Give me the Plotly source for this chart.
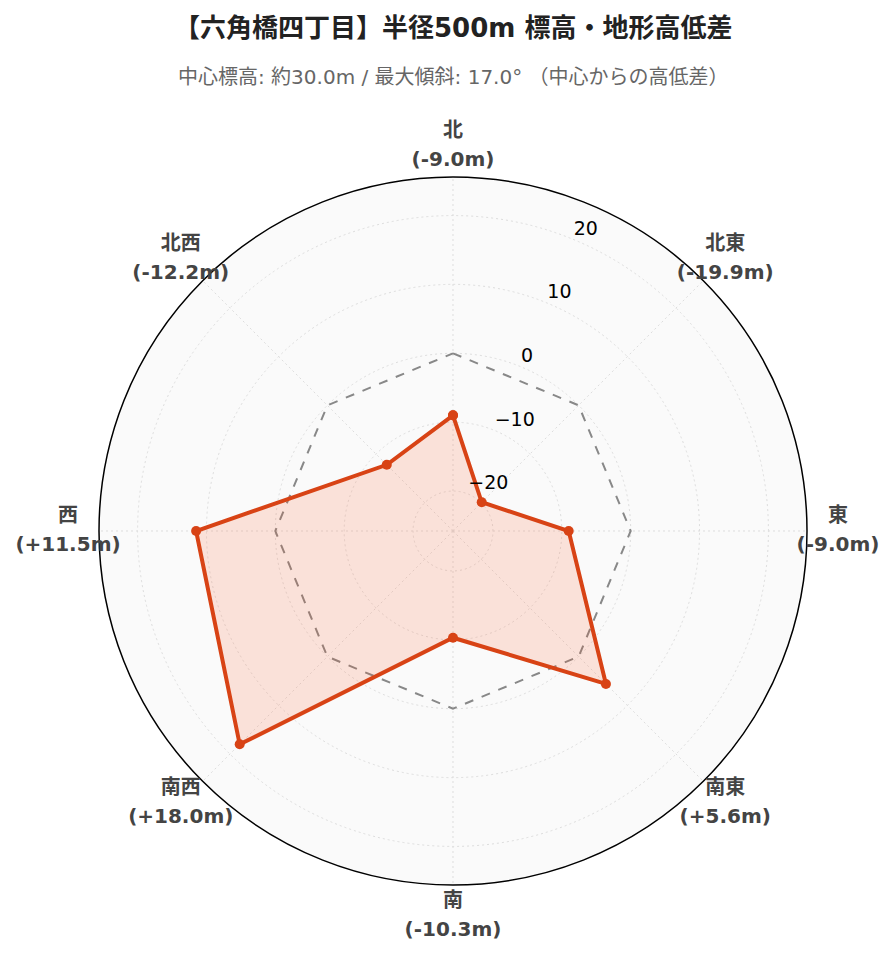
import plotly.graph_objects as go

directions = ["北", "北東", "東", "南東", "南", "南西", "西", "北西"]
direction_angles = [0, 45, 90, 135, 180, 225, 270, 315]
diffs = [-9.0, -19.9, -9.0, 5.6, -10.3, 18.0, 11.5, -12.2]
reference = [0, 0, 0, 0, 0, 0, 0, 0]
radial_ticks = [-20, -10, 0, 10, 20]
radial_range = [-25.8, 25.6]

title_text = "【六角橋四丁目】半径500m 標高・地形高低差"
subtitle_text = "中心標高: 約30.0m / 最大傾斜: 17.0° （中心からの高低差）"


def fmt_label(d, v):
    val = f"({v:+.1f}m)" if v > 0 else f"({v:.1f}m)"
    return (f"<span style='font-size:20px'><b>{d}</b></span><br>"
            f"<span style='font-size:20px'><b>{val}</b></span>")


labels = [fmt_label(d, v) for d, v in zip(directions, diffs)]

W, H = 896, 962
cx, cy, R = 445, 523, 354   # polar area (figure pixels)
R2 = 420                    # outer overlay polar used for the direction labels
span = radial_range[1] - radial_range[0]
range2 = [radial_range[0], radial_range[0] + span * R2 / R]
label_r = radial_range[0] + span * 385 / R
tick_theta = 22.5

fig = go.Figure()
fig.add_trace(go.Scatterpolar(
    r=reference + [reference[0]], theta=direction_angles + [direction_angles[0]], mode="lines",
    line=dict(color="#888888", width=2, dash="dash"), hoverinfo="skip", showlegend=False))
fig.add_trace(go.Scatterpolar(
    r=diffs + [diffs[0]], theta=direction_angles + [direction_angles[0]], mode="lines+markers",
    fill="toself", fillcolor="rgba(255,87,34,0.15)",
    line=dict(color="#D84315", width=4), marker=dict(size=10, color="#D84315"),
    showlegend=False))
# radial tick labels
fig.add_trace(go.Scatterpolar(
    r=radial_ticks, theta=[tick_theta] * len(radial_ticks), mode="text",
    text=[str(t).replace("-", "\u2212") for t in radial_ticks],
    textposition="top right", textfont=dict(size=19, color="black"),
    cliponaxis=False, hoverinfo="skip", showlegend=False))
# direction labels on an invisible, larger overlay polar with the same scale
fig.add_trace(go.Scatterpolar(
    r=[label_r] * len(directions), theta=direction_angles, mode="text", text=labels,
    textposition="middle center", textfont=dict(size=22, color="#444444"),
    cliponaxis=False, hoverinfo="skip", showlegend=False, subplot="polar2"))

hidden_axis = dict(visible=False, showgrid=False, showline=False, showticklabels=False, ticks="")
fig.update_layout(
    width=W, height=H,
    margin=dict(t=0, b=0, l=0, r=0, autoexpand=False),
    paper_bgcolor="white",
    font=dict(family="DejaVu Sans, Noto Sans CJK JP, sans-serif"),
    polar=dict(
        domain=dict(x=[(cx - R) / W, (cx + R) / W], y=[1 - (cy + R) / H, 1 - (cy - R) / H]),
        bgcolor="#fafafa",
        angularaxis=dict(rotation=90, direction="clockwise", showline=True, linecolor="black", linewidth=1.5,
                         tickvals=direction_angles, showticklabels=False,
                         gridcolor="#dddddd", griddash="2px,3px", ticks=""),
        radialaxis=dict(range=radial_range, tickvals=radial_ticks, showticklabels=False,
                        showline=False, ticks="",
                        gridcolor="#dddddd", griddash="2px,3px"),
    ),
    polar2=dict(
        domain=dict(x=[(cx - R2) / W, (cx + R2) / W], y=[1 - (cy + R2) / H, 1 - (cy - R2) / H]),
        bgcolor="rgba(0,0,0,0)",
        angularaxis=dict(rotation=90, direction="clockwise", **hidden_axis),
        radialaxis=dict(range=range2, **hidden_axis),
    ),
    annotations=[
        dict(text=f"<b>{title_text}</b>", x=(453 - 8) / W, y=1 - 20 / H, xref="paper", yref="paper",
             showarrow=False, font=dict(size=26, color="#222222"), xanchor="center", yanchor="middle"),
        dict(text=subtitle_text, x=(453 - 8) / W, y=1 - 69 / H, xref="paper", yref="paper",
             showarrow=False, font=dict(size=20, color="#666666"), xanchor="center", yanchor="middle"),
    ],
)
fig.write_html("out.html")
